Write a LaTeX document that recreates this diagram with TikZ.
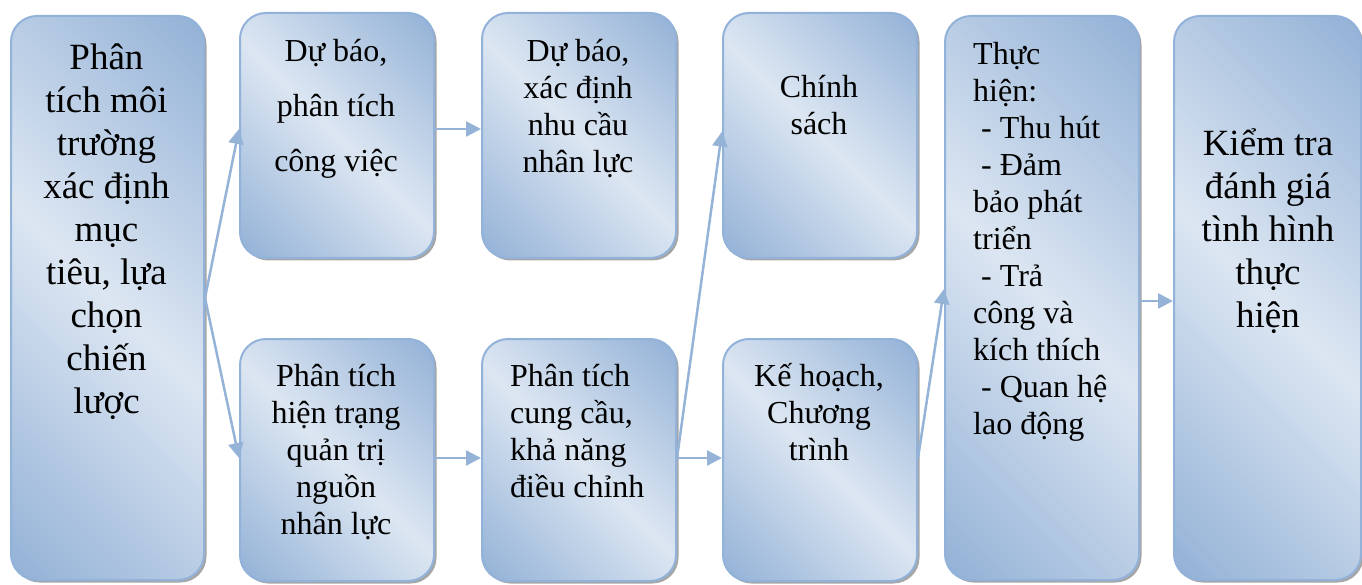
\documentclass[tikz,border=0pt]{standalone}
\usepackage{fontspec}
\setmainfont{Liberation Serif}
\usetikzlibrary{arrows.meta,shadows}
\definecolor{boxlight}{HTML}{DCE6F2}
\definecolor{boxdark}{HTML}{95B3D7}
\definecolor{boxline}{HTML}{92B2DA}
\definecolor{arrowc}{HTML}{95B3D7}
\pgfdeclarehorizontalshading{boxshade}{100bp}{color(0bp)=(boxdark); color(16bp)=(boxdark); color(50bp)=(boxlight); color(84bp)=(boxdark); color(100bp)=(boxdark)}
\newcommand\tstrut[1]{\rule{0pt}{#1}}
\tikzset{
  boxnode/.style={draw=boxline, line width=2pt, rounded corners=26pt,
    shading=boxshade, shading angle=45, inner sep=0pt, anchor=north west,
    drop shadow={shadow xshift=2.5pt, shadow yshift=-2.5pt, fill=black, opacity=0.35}},
  bigtxt/.style={font=\fontsize{37}{43}\selectfont, align=center, inner sep=0pt, anchor=north},
  smalltxt/.style={font=\fontsize{32}{37}\selectfont, align=center, inner sep=0pt, anchor=north},
  lefttxt/.style={font=\fontsize{32}{37}\selectfont, align=left, inner sep=0pt, anchor=north west},
  flow/.style={draw=arrowc, line width=2.5pt, -{Triangle[length=15pt,width=15pt]}}
}
\begin{document}
\begin{tikzpicture}[x=1pt,y=-1pt]
\useasboundingbox (0,0) rectangle (1362,585);
% boxes
\node[boxnode, minimum width=193pt, minimum height=564pt] (b1) at (10,15) {};
\node[boxnode, minimum width=194pt, minimum height=245pt] (b2) at (239,12) {};
\node[boxnode, minimum width=194pt, minimum height=245pt] (b3) at (481,12) {};
\node[boxnode, minimum width=194pt, minimum height=245pt] (b4) at (722,12) {};
\node[boxnode, minimum width=194pt, minimum height=242pt] (b5) at (239,338) {};
\node[boxnode, minimum width=194pt, minimum height=242pt] (b6) at (481,338) {};
\node[boxnode, minimum width=194pt, minimum height=242pt] (b7) at (722,338) {};
\node[boxnode, minimum width=194pt, minimum height=564pt] (b8) at (944,15) {};
\node[boxnode, minimum width=187pt, minimum height=564pt] (b9) at (1173,15) {};
% texts
\node[bigtxt] (t1) at (106.5,33) {\tstrut{36pt}Phân\\tích môi\\trường\\xác định\\mục\\tiêu, lựa\\chọn\\chiến\\lược};
\node[smalltxt, font=\fontsize{32}{55}\selectfont] (t2) at (336,31) {\tstrut{30pt}Dự báo,\\phân tích\\công việc};
\node[smalltxt] (t3) at (578,31) {\tstrut{30pt}Dự báo,\\xác định\\nhu cầu\\nhân lực};
\node[smalltxt] (t4) at (819,67) {\tstrut{30pt}Chính\\sách};
\node[smalltxt] (t5) at (336,356) {\tstrut{30pt}Phân tích\\hiện trạng\\quản trị\\nguồn\\nhân lực};
\node[lefttxt] (t6) at (510,356) {\tstrut{30pt}Phân tích\\cung cầu,\\khả năng\\điều chỉnh};
\node[smalltxt] (t7) at (819,356) {\tstrut{30pt}Kế hoạch,\\Chương\\trình};
\node[lefttxt] (t8) at (973,34) {\tstrut{30pt}Thực\\hiện:\\\hspace*{.25em}- Thu hút\\\hspace*{.25em}- Đảm\\bảo phát\\triển\\\hspace*{.25em}- Trả\\công và\\kích thích\\\hspace*{.25em}- Quan hệ\\lao động};
\node[bigtxt] (t9) at (1268,119) {\tstrut{36pt}Kiểm tra\\đánh giá\\tình hình\\thực\\hiện};
% connectors
\draw[flow] (b1.east) -- ([yshift=6.5pt]b2.west);
\draw[flow] (b1.east) -- ([yshift=2pt]b5.west);
\draw[flow] ([yshift=6.5pt]b2.east) -- ([yshift=6.5pt]b3.west);
\draw[flow] ([yshift=2pt]b5.east) -- ([yshift=2pt]b6.west);
\draw[flow] ([yshift=2pt]b6.east) -- ([yshift=4pt]b4.west);
\draw[flow] ([yshift=2pt]b6.east) -- ([yshift=2pt]b7.west);
\draw[flow] ([yshift=2pt]b7.east) -- ([yshift=9pt]b8.west);
\draw[flow] ([yshift=-3pt]b8.east) -- ([yshift=-3pt]b9.west);
\end{tikzpicture}
\end{document}
